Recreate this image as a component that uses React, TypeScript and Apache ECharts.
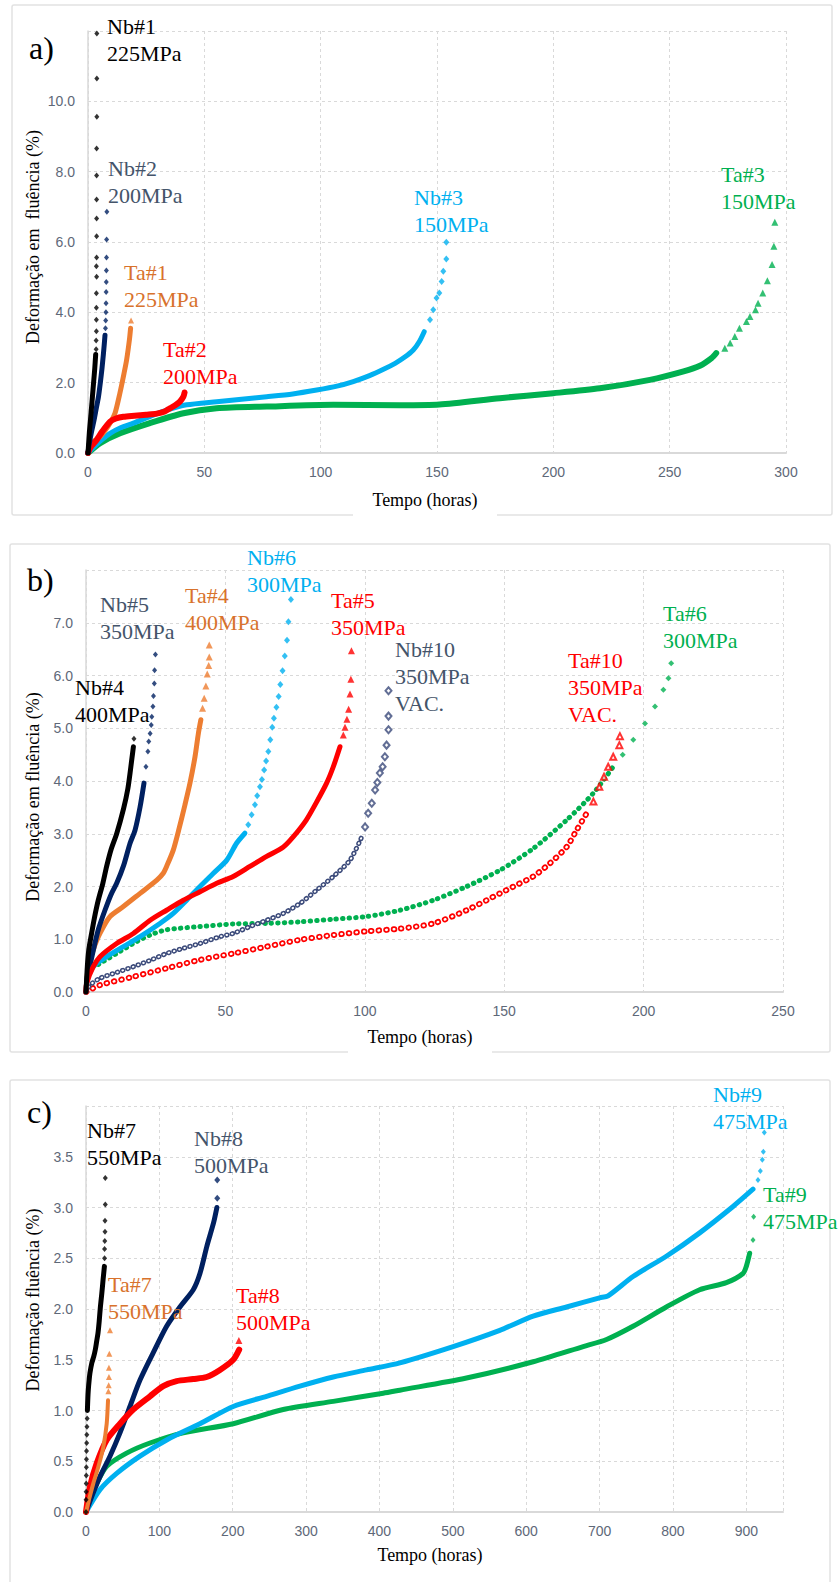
import React, { useEffect, useRef } from "react";
import * as echarts from "echarts";

// ---------- axis ranges ----------
const axisA = { xMax: 300, xInt: 50, yMax: 12, yInt: 2 };
const axisB = { xMax: 250, xInt: 50, yMax: 8, yInt: 1 };
const axisC = { xMax: 950, xInt: 100, yMax: 4, yInt: 0.5 };

// ---------- panel a) ----------
const nb1Curve = [[0, 0], [0.3, 0.3], [0.6, 0.6], [1.0, 0.9], [1.4, 1.2], [1.9, 1.6], [2.4, 2.0], [2.9, 2.4], [3.3, 2.8]];
const nb1Tail = [[3.5, 2.95], [3.5, 3.2], [3.6, 3.46], [3.6, 3.79], [3.6, 4.13], [3.6, 4.54], [3.7, 5.01], [3.6, 5.31], [3.7, 5.56], [3.7, 6.16], [3.7, 6.67], [3.7, 7.21], [3.7, 7.89], [3.7, 8.66], [3.8, 9.56], [3.8, 10.65], [3.8, 11.93]];
const nb2Curve = [[0, 0], [0.5, 0.25], [1.5, 0.6], [2.5, 0.9], [3.5, 1.25], [4.5, 1.6], [5.3, 2.0], [6.0, 2.4], [6.6, 2.8], [7.0, 3.1], [7.3, 3.35]];
const nb2Tail = [[7.5, 3.55], [7.6, 3.77], [7.7, 4.0], [7.75, 4.26], [7.8, 4.58], [7.85, 4.86], [7.9, 5.19], [7.95, 5.56], [8.0, 6.07], [8.1, 6.86]];
const ta1Curve = [[0, 0], [1.6, 0.28], [3.5, 0.38], [5.2, 0.46], [7.5, 0.65], [9.5, 0.85], [11.6, 1.13], [13.7, 1.7], [15.5, 2.27], [16.6, 2.65], [17.8, 3.22], [18.3, 3.55]];
const ta1Tail = [[18.5, 3.77]];
const ta2Curve = [[0, 0], [1.5, 0.2], [3.7, 0.37], [6, 0.6], [9.5, 0.89], [12, 0.98], [15.2, 1.03], [20, 1.06], [25, 1.09], [29.5, 1.12], [33, 1.18], [35.2, 1.27], [37.5, 1.36], [39.5, 1.46], [41, 1.6], [41.5, 1.72]];
const nb3Curve = [[0, 0], [3, 0.2], [6, 0.38], [9.5, 0.56], [14, 0.72], [19.5, 0.85], [26, 1.02], [33.8, 1.22], [42.4, 1.37], [55.3, 1.46], [66, 1.53], [76.8, 1.6], [88, 1.68], [98.3, 1.79], [107, 1.9], [114, 2.03], [121, 2.2], [127, 2.38], [132, 2.55], [136, 2.72], [139.8, 2.93], [142.5, 3.18], [144.5, 3.45]];
const nb3Tail = [[147, 3.79], [148.4, 4.07], [149.8, 4.41], [151, 4.55], [152, 4.88], [152.7, 5.17], [154, 5.52], [154, 5.99]];
const ta3Curve = [[0, 0], [5.2, 0.28], [13.8, 0.56], [26.6, 0.85], [41, 1.13], [55.3, 1.27], [76.8, 1.32], [105.4, 1.37], [134, 1.36], [151, 1.38], [177, 1.56], [200, 1.7], [220, 1.84], [241.5, 2.08], [256, 2.32], [263, 2.48], [268, 2.7], [270, 2.84]];
const ta3Tail = [[273.7, 2.98], [276, 3.13], [278, 3.31], [280, 3.55], [283, 3.74], [284.5, 3.88], [286.9, 4.07], [288, 4.26], [290, 4.55], [292, 4.9], [294, 5.36], [294.8, 5.88], [295.2, 6.56]];

// ---------- panel b) ----------
const nb4Curve = [[0, 0], [0.5, 0.5], [1, 0.8], [2, 1.11], [3, 1.4], [4.4, 1.74], [6, 2.05], [7.4, 2.38], [9, 2.7], [11, 3.0], [13.5, 3.48], [15, 3.85], [15.8, 4.15], [16.4, 4.4], [17, 4.65]];
const nb4Tail = [[17.2, 4.8]];
const nb5Curve = [[0, 0], [0.5, 0.3], [1.4, 0.5], [3, 0.88], [4.5, 1.2], [6.8, 1.55], [9, 1.85], [11, 2.06], [13.5, 2.4], [15.8, 2.82], [17.6, 3.07], [19.4, 3.51], [20.8, 3.96]];
const nb5Tail = [[21.5, 4.27], [22.2, 4.56], [22.5, 4.75], [23, 4.9], [23.4, 5.06], [23.6, 5.22], [24, 5.41], [24.2, 5.61], [24.5, 5.85], [24.6, 6.1], [24.9, 6.4]];
const ta4Curve = [[0, 0], [0.8, 0.48], [2.6, 0.8], [5, 1.11], [8.6, 1.43], [13.4, 1.62], [19.4, 1.87], [25.4, 2.12], [27.7, 2.25], [28.9, 2.38], [31.3, 2.69], [33.4, 3.1], [35.5, 3.55], [37.3, 3.96], [39.1, 4.46], [40.3, 4.9], [41.2, 5.16]];
const ta4Tail = [[41.8, 5.38], [42.4, 5.57], [43, 5.8], [43.5, 6.03], [44, 6.19], [44.2, 6.35], [44.2, 6.58]];
const nb6Curve = [[0, 0], [0.8, 0.35], [3.8, 0.54], [7.4, 0.67], [13.4, 0.86], [19.4, 1.05], [26.5, 1.3], [31.3, 1.49], [36.1, 1.74], [40.9, 2.0], [45.7, 2.25], [50.5, 2.5], [54, 2.82], [57, 3.01]];
const nb6Tail = [[58.2, 3.17], [59.4, 3.36], [60.6, 3.55], [61.4, 3.72], [62.4, 3.89], [63.1, 4.03], [63.9, 4.21], [64.6, 4.38], [65.4, 4.56], [66.1, 4.78], [66.8, 5.02], [67.4, 5.19], [68.3, 5.4], [69.1, 5.6], [69.7, 5.83], [70.5, 6.09], [71.3, 6.37], [72.1, 6.67], [72.6, 7.02], [73.5, 7.44]];
const ta5Curve = [[0, 0], [0.2, 0.16], [2.6, 0.48], [5, 0.67], [11, 0.92], [17, 1.11], [23, 1.36], [28.9, 1.55], [34.9, 1.74], [40.9, 1.9], [46.9, 2.06], [52.8, 2.19], [58.8, 2.38], [64.8, 2.57], [70.8, 2.75], [74.3, 2.94], [79, 3.26], [82.7, 3.6], [86.3, 3.96], [88.7, 4.27], [91.1, 4.65]];
const ta5Tail = [[92.3, 4.87], [92.9, 5.02], [93.6, 5.17], [94.2, 5.36], [94.7, 5.65], [95, 5.93], [95.2, 6.47]];
const nb10Curve = [[0, 0], [1.4, 0.13], [5, 0.26], [11, 0.37], [17, 0.48], [23, 0.6], [28.9, 0.73], [35, 0.83], [40.9, 0.92], [48.1, 1.05], [52.8, 1.11], [58.8, 1.24], [64.8, 1.36], [70.8, 1.49], [76.8, 1.68], [82.7, 1.93], [88.7, 2.19], [94.7, 2.5], [98.9, 2.94]];
const nb10Tail = [[100.1, 3.13], [101.2, 3.39], [102.5, 3.58], [103.7, 3.83], [104.5, 3.97], [105.4, 4.15], [106.4, 4.27], [107.2, 4.46], [107.8, 4.68], [108.5, 4.97], [108.5, 5.23], [108.5, 5.71]];
const ta6Curve = [[0, 0], [1.4, 0.42], [5, 0.54], [11, 0.73], [17, 0.92], [23, 1.08], [28.9, 1.18], [40.9, 1.24], [52.8, 1.29], [64.8, 1.3], [76.8, 1.33], [88.7, 1.38], [100.6, 1.43], [112.6, 1.55], [124.6, 1.74], [136.5, 2.0], [148.5, 2.31], [160.4, 2.72], [172.4, 3.26], [182, 3.77], [189.1, 4.27]];
const ta6Tail = [[192.5, 4.5], [196.3, 4.78], [200.5, 5.09], [204.1, 5.41], [207.1, 5.73], [208.9, 5.95], [209.9, 6.23]];
const ta10Curve = [[0, 0], [5, 0.13], [17, 0.29], [28.9, 0.45], [40.9, 0.61], [52.8, 0.73], [64.8, 0.86], [76.8, 0.99], [88.7, 1.08], [100.6, 1.15], [112.6, 1.2], [124.6, 1.3], [136.5, 1.55], [148.5, 1.87], [154.5, 2.03], [160.4, 2.19], [166.4, 2.44], [172.4, 2.75], [176, 3.07], [179.6, 3.39]];
const ta10Tail = [[182, 3.61], [184.1, 3.89], [185.8, 4.08], [187.3, 4.27], [189.1, 4.46], [191.3, 4.68], [191.5, 4.85]];

// ---------- panel c) ----------
const nb7Low = [[0, 0], [0.1, 0.12], [0.2, 0.2], [0.3, 0.28], [0.4, 0.36], [0.5, 0.44], [0.6, 0.52], [0.7, 0.6], [0.9, 0.68], [1.1, 0.76], [1.3, 0.84], [1.6, 0.92]];
const nb7Curve = [[1.9, 1.0], [2.5, 1.12], [3.1, 1.2], [4.3, 1.3], [5.4, 1.37], [8, 1.47], [10.5, 1.53], [12.7, 1.6], [14.5, 1.68], [16.3, 1.76], [18, 1.88], [19.6, 2.02], [21.5, 2.15], [23.3, 2.29], [25.1, 2.42]];
const nb7Tail = [[25.3, 2.5], [25.3, 2.59], [25.6, 2.67], [25.9, 2.76], [25.9, 2.87], [26.3, 3.03], [26.3, 3.29]];
const nb8Curve = [[0, 0], [7.7, 0.15], [19.1, 0.35], [32.7, 0.55], [46.3, 0.78], [59.9, 1.04], [73.6, 1.3], [91.7, 1.57], [109.9, 1.83], [128, 2.02], [146.2, 2.19], [155.3, 2.35], [164.8, 2.62], [173.9, 2.85], [178.4, 3.0]];
const nb8Tail = [[178.9, 3.09], [178.9, 3.27]];
const ta7Curve = [[0, 0], [4, 0.12], [9.9, 0.28], [17, 0.45], [23.6, 0.64], [28.2, 0.87], [30, 1.1]];
const ta7Tail = [[30.5, 1.19], [30.9, 1.25], [31.3, 1.33], [31.3, 1.42], [31.8, 1.56], [32.7, 1.79]];
const ta8Curve = [[0, 0], [5.4, 0.25], [14.6, 0.48], [28.2, 0.71], [46.3, 0.87], [64.4, 1.01], [87.2, 1.14], [105.3, 1.24], [123.5, 1.29], [146.2, 1.31], [164.4, 1.33], [182.6, 1.4], [200.7, 1.5], [208.8, 1.6]];
const ta8Tail = [[208.4, 1.69]];
const nb9Curve = [[0, 0], [19.1, 0.22], [41.8, 0.38], [73.6, 0.55], [109.9, 0.71], [155.3, 0.87], [200.7, 1.04], [246.2, 1.14], [291.6, 1.24], [337, 1.33], [382.4, 1.4], [427.8, 1.47], [500.4, 1.63], [564, 1.79], [609.5, 1.93], [655, 2.02], [700, 2.11], [711.6, 2.13], [745.6, 2.32], [791, 2.52], [836.4, 2.75], [881.9, 3.01], [909.1, 3.18]];
const nb9Tail = [[915.9, 3.27], [919.1, 3.36], [921.8, 3.47], [923.2, 3.55], [924.5, 3.74]];
const ta9Curve = [[0, 0], [5.4, 0.12], [14.6, 0.28], [28.2, 0.45], [55.3, 0.58], [87.2, 0.68], [132.6, 0.78], [200.7, 0.87], [268.8, 1.01], [337, 1.09], [405.1, 1.17], [427.8, 1.2], [518.6, 1.32], [609.5, 1.48], [677.7, 1.63], [709.5, 1.7], [745.6, 1.83], [791, 2.02], [836.4, 2.19], [872.8, 2.26], [895.5, 2.35], [900, 2.42], [904.6, 2.55]];
const ta9Tail = [[909.1, 2.68], [910, 2.91]];

// ---------- colors & fonts ----------
const BLACK = "#000000";
const NAVY = "#002060";
const NAVY_TXT = "#44546a";
const HOLLOW_NAVY = "#3b4a7a";
const ORANGE = "#ed7d31";
const ORANGE_TXT = "#d8722c";
const RED = "#ff0000";
const BLUE = "#00b0f0";
const GREEN = "#00b050";
const GRID = "#d9d9d9";
const TICK = "#5e6878";
const SERIF = "Liberation Serif";
const SANS = "Liberation Sans";

function curve(i: number, data: number[][], color: string, width: number, extra: any = {}) {
  return {
    type: "line", xAxisIndex: i, yAxisIndex: i, data, smooth: 0.25, showSymbol: false,
    silent: true, itemStyle: { color },
    lineStyle: { color, width, cap: "round", join: "round", ...(extra.lineStyle || {}) },
    z: extra.z || 2,
  };
}
function tail(i: number, data: number[][], color: string, symbol: string, size: any, z = 3) {
  return {
    type: "scatter", xAxisIndex: i, yAxisIndex: i, data, symbol, symbolSize: size, silent: true,
    itemStyle: { color, borderColor: color, borderWidth: symbol.startsWith("empty") ? 1 : 0 }, z,
  };
}

function xAxis(i: number, a: any) {
  return {
    type: "value", gridIndex: i, min: 0, max: a.xMax, interval: a.xInt,
    axisLine: { show: true, lineStyle: { color: GRID, width: 2 } },
    axisTick: { show: false },
    axisLabel: {
      color: TICK, fontFamily: SANS, fontSize: 14, margin: 12,
      formatter: (v: number) => (Math.abs(v / a.xInt - Math.round(v / a.xInt)) < 1e-6 ? String(v) : ""),
    },
    splitLine: { show: true, lineStyle: { color: GRID, type: [3, 3], width: 1 } },
  };
}
function yAxis(i: number, a: any) {
  return {
    type: "value", gridIndex: i, min: 0, max: a.yMax, interval: a.yInt,
    axisLine: { show: true, lineStyle: { color: GRID, width: 1.5 } },
    axisTick: { show: false },
    axisLabel: {
      color: TICK, fontFamily: SANS, fontSize: 14, margin: 13,
      formatter: (v: number) => (v >= a.yMax - 1e-9 ? "" : v.toFixed(1)),
    },
    splitLine: { show: true, lineStyle: { color: GRID, type: [3, 3], width: 1 } },
  };
}

function label(x: number, capTop: number, text: string, color: string) {
  return {
    type: "text", x, y: capTop - 6, silent: true, z: 20,
    style: { text, fill: color, fontFamily: SERIF, fontSize: 22, fontWeight: "normal", lineHeight: 27, verticalAlign: "top", align: "left" },
  };
}
function panelTag(x: number, y: number, text: string) {
  return { type: "text", x, y, silent: true, z: 20, style: { text, fill: "#000", fontFamily: SERIF, fontSize: 32, fontWeight: "normal", verticalAlign: "middle" } };
}
function xTitle(cx: number, cy: number) {
  return [
    { type: "rect", shape: { x: cx - 72, y: cy - 14, width: 144, height: 30 }, style: { fill: "#fff" }, z: 15, silent: true },
    { type: "text", x: cx, y: cy, silent: true, z: 20, style: { text: "Tempo (horas)", fill: "#000", fontFamily: SERIF, fontSize: 18, fontWeight: "normal", align: "center", verticalAlign: "middle" } },
  ];
}
function yTitle(cx: number, cy: number, text: string) {
  return { type: "text", x: cx, y: cy, rotation: Math.PI / 2, silent: true, z: 20, style: { text, fill: "#000", fontFamily: SERIF, fontSize: 18, fontWeight: "normal", align: "center", verticalAlign: "middle" } };
}
function box(x: number, y: number, w: number, h: number) {
  return { type: "rect", shape: { x, y, width: w, height: h, r: 2 }, style: { fill: "none", stroke: "#e2e2e2", lineWidth: 1.5 }, z: 1, silent: true };
}

export default function App() {
  const ref = useRef<HTMLDivElement>(null);
  useEffect(() => {
    if (!ref.current) return;
    const chart = echarts.init(ref.current, undefined, { renderer: "svg" });
    const hollowDots = (i: number, data: number[][], color: string, outer: number, inner: number, gap: number) => [
      curve(i, data, color, outer, { lineStyle: { type: [0.5, gap], cap: "round" } }),
      curve(i, data, "#ffffff", inner, { lineStyle: { type: [0.5, gap], cap: "round" }, z: 3 }),
    ];
    const option: any = {
      animation: false,
      backgroundColor: "#ffffff",
      grid: [
        { left: 88, top: 31, width: 698, height: 422 },
        { left: 86, top: 570, width: 697, height: 422 },
        { left: 86, top: 1106, width: 697, height: 406 },
      ],
      xAxis: [xAxis(0, axisA), xAxis(1, axisB), xAxis(2, axisC)],
      yAxis: [yAxis(0, axisA), yAxis(1, axisB), yAxis(2, axisC)],
      series: [
        // a)
        curve(0, ta3Curve, GREEN, 6),
        tail(0, ta3Tail, GREEN, "triangle", 7),
        curve(0, nb3Curve, BLUE, 5),
        tail(0, nb3Tail, BLUE, "diamond", [6, 7]),
        curve(0, ta1Curve, ORANGE, 5),
        tail(0, ta1Tail, ORANGE, "triangle", 6),
        curve(0, ta2Curve, RED, 6, { z: 4 }),
        curve(0, nb2Curve, NAVY, 5, { z: 5 }),
        tail(0, nb2Tail, NAVY, "diamond", [5, 6], 5),
        curve(0, nb1Curve, BLACK, 5, { z: 6 }),
        tail(0, nb1Tail, BLACK, "diamond", [5, 6], 6),
        // b)
        ...hollowDots(1, ta10Curve, RED, 6, 2.5, 7),
        tail(1, ta10Tail, RED, "emptyTriangle", 6),
        curve(1, ta6Curve, GREEN, 5, { lineStyle: { type: [0.5, 6], cap: "round" } }),
        tail(1, ta6Tail, GREEN, "diamond", [6, 6]),
        ...hollowDots(1, nb10Curve, HOLLOW_NAVY, 5, 2, 5),
        tail(1, nb10Tail, HOLLOW_NAVY, "emptyDiamond", [6, 7]),
        curve(1, nb6Curve, BLUE, 5),
        tail(1, nb6Tail, BLUE, "diamond", [6, 7]),
        curve(1, ta5Curve, RED, 5, { z: 4 }),
        tail(1, ta5Tail, RED, "triangle", 7, 4),
        curve(1, ta4Curve, ORANGE, 5),
        tail(1, ta4Tail, ORANGE, "triangle", 7),
        curve(1, nb5Curve, NAVY, 5),
        tail(1, nb5Tail, NAVY, "diamond", [5, 6]),
        curve(1, nb4Curve, BLACK, 5, { z: 5 }),
        tail(1, nb4Tail, BLACK, "diamond", [5, 6], 5),
        // c)
        curve(2, ta9Curve, GREEN, 5),
        tail(2, ta9Tail, GREEN, "diamond", [5, 6]),
        curve(2, nb9Curve, BLUE, 5),
        tail(2, nb9Tail, BLUE, "diamond", [5, 6]),
        curve(2, nb8Curve, NAVY, 5),
        tail(2, nb8Tail, NAVY, "diamond", [6, 7]),
        curve(2, ta8Curve, RED, 6, { z: 4 }),
        tail(2, ta8Tail, RED, "triangle", 7, 4),
        curve(2, ta7Curve, ORANGE, 4, { z: 5 }),
        tail(2, ta7Tail, ORANGE, "triangle", 6, 5),
        tail(2, nb7Low, BLACK, "diamond", [5, 6], 6),
        curve(2, nb7Curve, BLACK, 5, { z: 6 }),
        tail(2, nb7Tail, BLACK, "diamond", [5, 6], 6),
      ],
      graphic: [
        box(12, 5, 820, 510),
        box(10, 544, 820, 508),
        box(10, 1080, 820, 620),
        ...xTitle(425, 500),
        ...xTitle(420, 1037),
        ...xTitle(430, 1555),
        yTitle(33, 237, "Deformação em  fluência (%)"),
        yTitle(33, 797, "Deformação em fluência (%)"),
        yTitle(33, 1300, "Deformação fluência (%)"),
        panelTag(29, 48, "a)"),
        panelTag(27, 580, "b)"),
        panelTag(27, 1112, "c)"),
        label(107, 19, "Nb#1\n225MPa", BLACK),
        label(108, 161, "Nb#2\n200MPa", NAVY_TXT),
        label(124, 265, "Ta#1\n225MPa", ORANGE_TXT),
        label(163, 342, "Ta#2\n200MPa", RED),
        label(414, 190, "Nb#3\n150MPa", BLUE),
        label(721, 167, "Ta#3\n150MPa", GREEN),
        label(100, 597, "Nb#5\n350MPa", NAVY_TXT),
        label(75, 680, "Nb#4\n400MPa", BLACK),
        label(185, 588, "Ta#4\n400MPa", ORANGE_TXT),
        label(247, 550, "Nb#6\n300MPa", BLUE),
        label(331, 593, "Ta#5\n350MPa", RED),
        label(395, 642, "Nb#10\n350MPa\nVAC.", NAVY_TXT),
        label(568, 653, "Ta#10\n350MPa\nVAC.", RED),
        label(663, 606, "Ta#6\n300MPa", GREEN),
        label(87, 1123, "Nb#7\n550MPa", BLACK),
        label(194, 1131, "Nb#8\n500MPa", NAVY_TXT),
        label(108, 1277, "Ta#7\n550MPa", ORANGE_TXT),
        label(236, 1288, "Ta#8\n500MPa", RED),
        label(713, 1087, "Nb#9\n475MPa", BLUE),
        label(763, 1187, "Ta#9\n475MPa", GREEN),
      ],
    };
    chart.setOption(option);
    return () => chart.dispose();
  }, []);
  return (
    <div
      ref={ref}
      style={{ position: "absolute", left: 0, top: 0, width: 840, height: 1582, background: "#fff" }}
    />
  );
}
